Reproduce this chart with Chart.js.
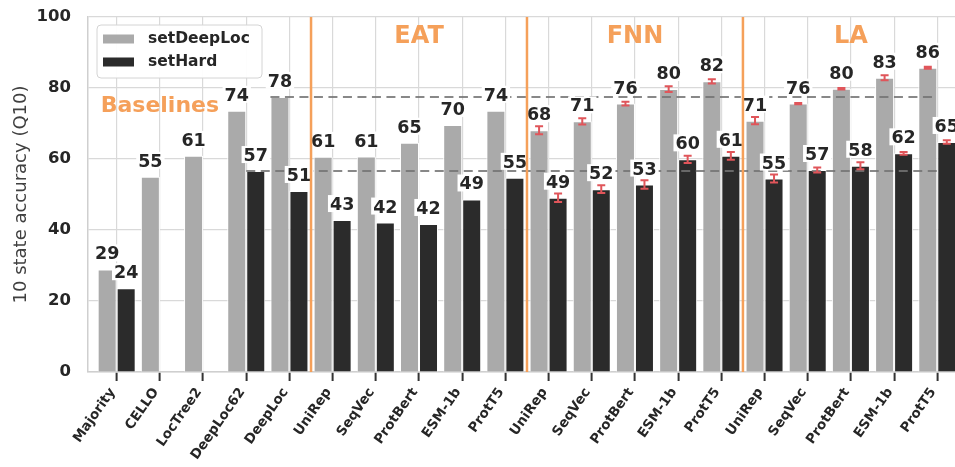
<!DOCTYPE html>
<html>
<head>
<meta charset="utf-8">
<script src="https://cdn.jsdelivr.net/npm/chart.js@4.4.1/dist/chart.umd.min.js"></script>
<style>
  html, body { margin: 0; padding: 0; background: #fff; overflow: hidden; }
  #wrap { width: 955px; height: 467px; }
</style>
</head>
<body>
<div id="wrap"><canvas id="chart" width="955" height="467"></canvas></div>
<script>
const categories = ["Majority", "CELLO", "LocTree2", "DeepLoc62", "DeepLoc",
  "UniRep", "SeqVec", "ProtBert", "ESM-1b", "ProtT5",
  "UniRep", "SeqVec", "ProtBert", "ESM-1b", "ProtT5",
  "UniRep", "SeqVec", "ProtBert", "ESM-1b", "ProtT5"];
const deepLocValues = [28.9, 55.0, 60.9, 73.6, 77.5,
  60.6, 60.7, 64.6, 69.6, 73.6,
  68.1, 70.6, 75.6, 79.7, 81.9,
  70.8, 75.6, 79.8, 82.9, 85.7];
const hardValues = [23.6, null, null, 56.6, 51.0,
  42.8, 42.1, 41.7, 48.6, 54.7,
  49.1, 51.5, 52.8, 59.9, 60.9,
  54.5, 56.9, 58.1, 61.6, 64.8];
const deepLocErrors = [null, null, null, null, null, null, null, null, null, null,
  1.1, 0.9, 0.5, 0.8, 0.6, 1.0, 0.2, 0.2, 0.7, 0.3];
const hardErrors = [null, null, null, null, null, null, null, null, null, null,
  1.2, 1.1, 1.2, 1.0, 1.1, 1.1, 0.7, 1.0, 0.4, 0.5];
const yTicks = [0, 20, 40, 60, 80, 100];
const groupNames = ["Baselines", "EAT", "FNN", "LA"];

const FONT = "DejaVu Sans";
const ORANGE = "#f5a05a";
const TEXT = "#262626";
const errors = [deepLocErrors, hardErrors];

// where the group names / separators sit, in category units
const groupCenters = [1, 7, 12, 17];
const groupLabelY = [73.3, 92.7, 92.7, 92.7];
const groupFontSize = [22, 24, 24, 24];
const groupBounds = [4.5, 9.5, 14.5];
const nBaselines = 5;

const overlay = {
  id: "overlay",
  afterDatasetsDraw(chart) {
    const { ctx, chartArea, scales: { x, y } } = chart;
    ctx.save();

    // best baseline per set -> dashed reference line
    chart.data.datasets.forEach((ds, d) => {
      let best = 0;
      for (let i = 1; i < nBaselines; i++) {
        if (ds.data[i].y != null && ds.data[i].y > ds.data[best].y) best = i;
      }
      const el = chart.getDatasetMeta(d).data[best];
      const py = y.getPixelForValue(ds.data[best].y);
      ctx.beginPath();
      ctx.setLineDash([9, 5.5]);
      ctx.strokeStyle = "rgba(115,115,115,0.85)";
      ctx.lineWidth = 2;
      ctx.moveTo(el.x - el.width / 2, py);
      ctx.lineTo(x.getPixelForValue(categories.length - 1), py);
      ctx.stroke();
    });
    ctx.setLineDash([]);

    // error bars
    chart.data.datasets.forEach((ds, d) => {
      const meta = chart.getDatasetMeta(d);
      ds.data.forEach((p, i) => {
        const e = errors[d][i];
        if (p.y == null || e == null) return;
        const el = meta.data[i];
        const t = y.getPixelForValue(p.y + e);
        const b = y.getPixelForValue(p.y - e);
        ctx.strokeStyle = "#e0555a";
        ctx.lineWidth = 2;
        ctx.beginPath();
        ctx.moveTo(el.x, t); ctx.lineTo(el.x, b);
        ctx.moveTo(el.x - 4, t); ctx.lineTo(el.x + 4, t);
        ctx.moveTo(el.x - 4, b); ctx.lineTo(el.x + 4, b);
        ctx.stroke();
      });
    });

    // value labels with white box
    ctx.font = "bold 17.5px '" + FONT + "'";
    ctx.textAlign = "center";
    ctx.textBaseline = "alphabetic";
    chart.data.datasets.forEach((ds, d) => {
      const meta = chart.getDatasetMeta(d);
      ds.data.forEach((p, i) => {
        if (p.y == null) return;
        const el = meta.data[i];
        const txt = String(Math.round(p.y));
        const base = y.getPixelForValue(p.y) - 10;
        const w = ctx.measureText(txt).width;
        ctx.fillStyle = "#fff";
        ctx.fillRect(el.x - w / 2 - 2, base - 15, w + 4, 17);
        ctx.fillStyle = TEXT;
        ctx.fillText(txt, el.x, base);
      });
    });

    // group separators
    ctx.strokeStyle = ORANGE;
    ctx.lineWidth = 2.5;
    groupBounds.forEach(b => {
      const px = x.getPixelForValue(b);
      ctx.beginPath();
      ctx.moveTo(px, chartArea.top);
      ctx.lineTo(px, chartArea.bottom);
      ctx.stroke();
    });

    // group names
    ctx.fillStyle = ORANGE;
    groupNames.forEach((g, k) => {
      ctx.font = "bold " + groupFontSize[k] + "px '" + FONT + "'";
      ctx.fillText(g, x.getPixelForValue(groupCenters[k]), y.getPixelForValue(groupLabelY[k]));
    });
    ctx.restore();
  },
  afterDraw(chart) {
    const { ctx, chartArea } = chart;
    const bx = chartArea.left + 9, by = chartArea.top + 8, bw = 165, bh = 53;
    ctx.save();
    ctx.beginPath();
    ctx.roundRect(bx, by, bw, bh, 4);
    ctx.fillStyle = "rgba(255,255,255,0.95)";
    ctx.fill();
    ctx.strokeStyle = "#d4d4d4";
    ctx.lineWidth = 1;
    ctx.stroke();
    ctx.font = "bold 15.5px '" + FONT + "'";
    ctx.textBaseline = "middle";
    ctx.textAlign = "left";
    chart.data.datasets.forEach((ds, d) => {
      const ry = by + 14 + d * 23;
      ctx.fillStyle = ds.backgroundColor;
      ctx.fillRect(bx + 6, ry - 4.5, 31, 9);
      ctx.fillStyle = TEXT;
      ctx.fillText(ds.label, bx + 51, ry);
    });
    ctx.restore();
  }
};

new Chart(document.getElementById("chart"), {
  type: "bar",
  data: {
    datasets: [
      {
        label: "setDeepLoc",
        data: deepLocValues.map((v, i) => ({ x: i, y: v })),
        backgroundColor: "#aaaaaa",
        borderColor: "#ffffff",
        borderWidth: 1
      },
      {
        label: "setHard",
        data: hardValues.map((v, i) => ({ x: i, y: v })),
        backgroundColor: "#2b2b2b",
        borderColor: "#ffffff",
        borderWidth: 1
      }
    ]
  },
  options: {
    responsive: false,
    animation: false,
    categoryPercentage: 0.88,
    barPercentage: 1,
    layout: { padding: { top: 17, right: 0, bottom: 0, left: 0 } },
    plugins: { legend: { display: false }, tooltip: { enabled: false } },
    scales: {
      x: {
        type: "linear",
        offset: false,
        min: -0.664,
        max: 19.41,
        afterBuildTicks: s => { s.ticks = categories.map((c, i) => ({ value: i })); },
        afterFit: s => { s.height = 95; s.paddingLeft = 0; s.paddingRight = 0; },
        ticks: {
          autoSkip: false,
          minRotation: 55,
          maxRotation: 55,
          padding: 4,
          labelOffset: -4,
          color: TEXT,
          font: { family: FONT, size: 13.5, weight: "bold" },
          callback: (v, i) => categories[i]
        },
        grid: { offset: false, color: "#d9d9d9", lineWidth: 1.2, tickColor: "#333333", tickLength: 9, tickWidth: 2 },
        border: { color: "#cfcfcf", width: 1.5 }
      },
      y: {
        min: 0,
        max: 100,
        afterBuildTicks: s => { s.ticks = yTicks.map(v => ({ value: v })); },
        afterFit: s => { s.width = 88; s.paddingTop = 0; s.paddingBottom = 0; },
        ticks: {
          padding: 17,
          color: TEXT,
          font: { family: FONT, size: 16.5, weight: "bold" }
        },
        grid: { color: "#d9d9d9", lineWidth: 1.2, drawTicks: false },
        border: { color: "#cfcfcf", width: 1.5 },
        title: {
          display: true,
          text: "10 state accuracy (Q10)",
          color: "#404040",
          font: { family: FONT, size: 18 },
          padding: { top: 11, bottom: 0 }
        }
      }
    }
  },
  plugins: [overlay]
});
</script>
</body>
</html>
